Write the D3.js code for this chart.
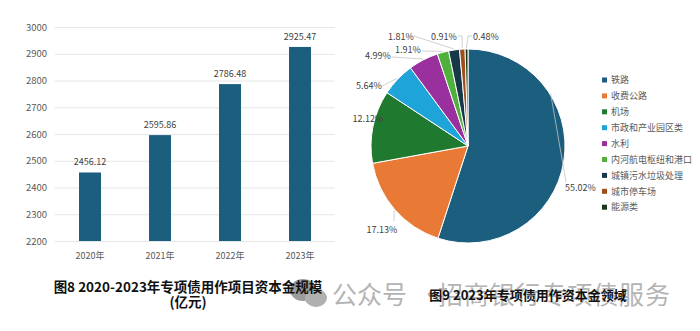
<!DOCTYPE html>
<html><head><meta charset="utf-8">
<script src="https://cdn.jsdelivr.net/npm/d3@7"></script>
<style>
html,body{margin:0;padding:0;background:#fff;}
svg{display:block;font-family:"Noto Sans CJK SC","Noto Sans",sans-serif;}
</style></head>
<body>
<svg id="c" width="700" height="331"></svg>
<script>
// ---- data ----
const years = ["2020年","2021年","2022年","2023年"];
const capital = [2456.12, 2595.86, 2786.48, 2925.47];
const yTicks = [2200,2300,2400,2500,2600,2700,2800,2900,3000];
const sectors = ["铁路","收费公路","机场","市政和产业园区类","水利","内河航电枢纽和港口","城镇污水垃圾处理","城市停车场","能源类"];
const shares = [55.02, 17.13, 12.12, 5.64, 4.99, 1.91, 1.81, 0.91, 0.48];
const title8 = "图8 2020-2023年专项债用作项目资本金规模";
const title8b = "(亿元)";
const title9 = "图9 2023年专项债用作资本金领域";

// ---- styles / layout ----
const colors = ["#1b5e7e","#e97a35","#1f7a2f","#1ea4d8","#9a2f9e","#50b03c","#163848","#a04f1c","#1c3a1a"];
const svg = d3.select("#c");

// watermark
const wm = svg.append("g");
wm.append("ellipse").attr("cx",303).attr("cy",290).attr("rx",13).attr("ry",11).attr("fill","#9c9c9c");
wm.append("ellipse").attr("cx",316).attr("cy",298).attr("rx",11).attr("ry",9).attr("fill","#b0b0b0");
wm.append("text").attr("x",332).attr("y",304).attr("font-size",25).attr("fill","#b4b4b4").text("公众号");
wm.append("text").attr("x",418).attr("y",304).attr("font-size",25).attr("fill","#b4b4b4").text("·");
wm.append("text").attr("x",438).attr("y",304).attr("font-size",25).attr("fill","#b4b4b4")
  .attr("textLength",232).attr("lengthAdjust","spacing").text("招商银行专项债服务");

// ---- bar chart ----
const x = d3.scaleBand().domain(years).range([55,335]).paddingInner(0.686).paddingOuter(0.343);
const y = d3.scaleLinear().domain([2200,3000]).range([241,27]);

const gy = svg.append("g").attr("transform","translate(55,0)")
  .call(d3.axisLeft(y).tickValues(yTicks).tickSize(-280).tickPadding(8).tickFormat(d3.format("d")));
gy.select(".domain").remove();
gy.selectAll(".tick line").attr("stroke","#e6e6e6");
gy.selectAll(".tick text").attr("fill","#595959").attr("font-size",9.5).attr("font-family","'Noto Sans CJK SC'");

const gx = svg.append("g").attr("transform","translate(0,241)")
  .call(d3.axisBottom(x).tickSize(0).tickPadding(12));
gx.select(".domain").remove();
gx.selectAll(".tick text").attr("fill","#595959").attr("font-size",9).attr("font-family","'Noto Sans CJK SC'");

svg.append("g").selectAll("rect").data(capital).join("rect")
  .attr("x",(d,i)=>x(years[i])).attr("width",x.bandwidth())
  .attr("y",d=>y(d)).attr("height",d=>y(2200)-y(d)).attr("fill","#1b5e7e");

svg.append("g").selectAll("text").data(capital).join("text")
  .attr("x",(d,i)=>x(years[i])+x.bandwidth()/2).attr("y",d=>y(d)-7)
  .attr("text-anchor","middle").attr("font-size",9).attr("fill","#404040")
  .text(d=>d.toFixed(2));

svg.append("text").attr("x",188).attr("y",292).attr("text-anchor","middle")
  .attr("font-size",13.5).attr("font-weight","bold").attr("fill","#111").text(title8);
svg.append("text").attr("x",188).attr("y",307).attr("text-anchor","middle")
  .attr("font-size",13.5).attr("font-weight","bold").attr("fill","#111").text(title8b);

// ---- pie chart ----
const cx = 468, cy = 146, R = 97;
const pie = d3.pie().sort(null).startAngle(0).endAngle(2*Math.PI);
const arcs = pie(shares);
const arc = d3.arc().innerRadius(0).outerRadius(R);
const gp = svg.append("g").attr("transform",`translate(${cx},${cy})`);
gp.selectAll("path").data(arcs).join("path")
  .attr("d",arc).attr("fill",(d,i)=>colors[i]).attr("stroke","#fff").attr("stroke-width",1);

// label layout: text position, anchor, leader points
const labelLayout = [
  {x:565,y:191,a:"start",pts:[[566,182]], ang:0.29},
  {x:382,y:233,a:"middle",pts:[[394,221]]},
  {x:368,y:122,a:"middle",pts:null},
  {x:369,y:89,a:"middle",pts:[[382,86]]},
  {x:378,y:59,a:"middle",pts:[[392,57]]},
  {x:408,y:53,a:"middle",pts:[[422,51]]},
  {x:401,y:40,a:"middle",pts:[[414,36]]},
  {x:444,y:40,a:"middle",pts:[[462,36],[458,36]]},
  {x:473,y:40,a:"start",pts:[[468,36],[472,36]]}
];
const lg = svg.append("g");
arcs.forEach((d,i)=>{
  const L = labelLayout[i];
  if(L.pts){
    const m = (L.ang!==undefined) ? d.startAngle + (d.endAngle-d.startAngle)*L.ang : (d.startAngle+d.endAngle)/2;
    const p0 = [cx + (R+1)*Math.sin(m), cy - (R+1)*Math.cos(m)];
    lg.append("path").attr("d", d3.line()([p0, ...L.pts]))
      .attr("fill","none").attr("stroke","#c4c4c4").attr("stroke-width",0.8);
  }
  lg.append("text").attr("x",L.x).attr("y",L.y).attr("text-anchor",L.a)
    .attr("font-size",9).attr("fill","#404040").text(shares[i].toFixed(2)+"%");
});

// legend
const leg = svg.append("g");
sectors.forEach((s,i)=>{
  const yy = 80 + i*15.9;
  leg.append("rect").attr("x",602).attr("y",yy-2.5).attr("width",5).attr("height",5).attr("fill",colors[i]);
  leg.append("text").attr("x",611).attr("y",yy+3.2).attr("font-size",9).attr("fill","#595959").text(s);
});

svg.append("text").attr("x",528).attr("y",300).attr("text-anchor","middle")
  .attr("font-size",13).attr("font-weight","bold").attr("fill","#111").text(title9);
</script>
</body></html>
